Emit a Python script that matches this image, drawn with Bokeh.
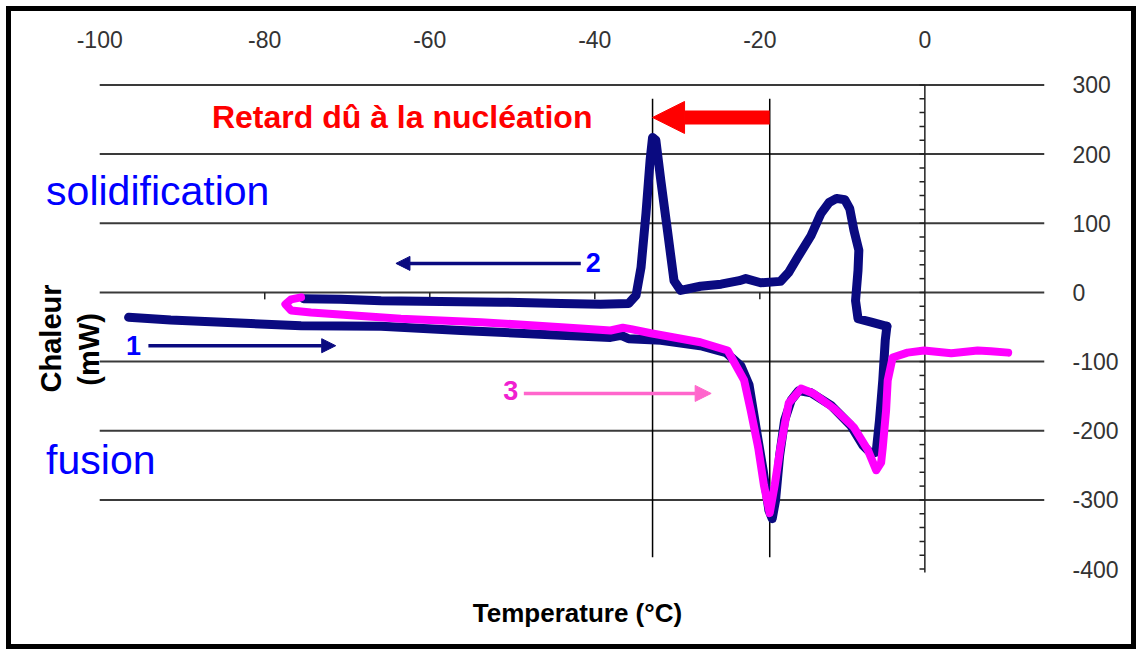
import math
from bokeh.plotting import figure
from bokeh.models import Range1d, FixedTicker, Label, Arrow, NormalHead
from bokeh.embed import file_html
from bokeh.resources import INLINE

# ---------------- data ----------------
X_TICKS = [-100, -80, -60, -40, -20, 0]
Y_TICKS = [-400, -300, -200, -100, 0, 100, 200, 300]
GRID_TICKS = [-300, -200, -100, 0, 100, 200, 300]
MINOR_Y = list(range(-400, 301, 20))
X_END = 14.5

# curve 1 (navy, heating)
heat1_x = [-96.5, -91.4, -81.7, -75.6, -65.9, -56.2, -44.1, -38.1, -36.8, -35.9,
           -32.0, -27.2, -24.1, -22.3, -21.3, -20.4, -19.6, -18.9, -18.5, -18.1,
           -17.6, -17.0, -16.2, -15.3, -13.8, -11.4, -9.0, -7.5, -6.5, -5.9,
           -5.5, -5.1, -4.8, -4.6]
heat1_y = [-36, -40, -45, -48, -49, -55, -62, -65, -62, -67,
           -69, -77, -87, -106, -134, -200, -257, -315, -327, -301,
           -236, -185, -156, -142, -145, -163, -192, -221, -233, -231,
           -185, -127, -69, -49]

# curve 2 (navy, cooling)
cool2_x = [-4.6, -6.5, -8.1, -8.4, -8.1, -8.0, -8.6, -9.1, -9.7, -10.7,
           -11.6, -12.6, -13.8, -15.4, -16.5, -17.5, -19.9, -21.7, -22.5, -24.7,
           -27.2, -29.6, -30.4, -31.2, -32.0, -32.6, -33.0, -33.3, -33.8, -34.4,
           -35.0, -35.9, -39.3, -44.1, -51.4, -58.7, -65.9, -70.8, -75.3]
cool2_y = [-49, -43, -38, -12, 32, 61, 90, 121, 134, 136,
           130, 114, 82, 51, 29, 16, 14, 20, 17, 12,
           9, 3, 17, 90, 162, 220, 224, 191, 114, 36,
           -4, -16, -17, -16, -14, -13, -12, -10, -9]

# curve 3 (magenta, heating)
heat3_x = [-75.6, -76.8, -77.5, -76.8, -74.4, -69.6, -63.5, -53.8, -41.7, -38.1,
           -36.6, -35.6, -33.2, -27.2, -23.9, -21.9, -21.1, -20.2, -19.5, -18.8,
           -18.2, -17.5, -16.5, -15.0, -13.5, -11.0, -8.6, -6.9, -5.9, -5.3,
           -5.1, -4.7, -4.5, -3.9, -2.1, -0.1, 3.2, 6.4, 8.0, 10.1]
heat3_y = [-7, -10, -17, -26, -29, -33, -38, -43, -52, -55,
           -51, -53, -59, -72, -84, -127, -171, -224, -279, -319,
           -279, -224, -160, -139, -146, -168, -195, -228, -257, -246,
           -224, -171, -127, -94, -87, -84, -88, -84, -85, -87]

ONSET_TEMPS = [-33.0, -18.8]

NAVY = "#0a0a80"
PINK = "#ff00ff"
BLUE = "#0000ff"

p = figure(width=1130, height=643, output_backend="svg", toolbar_location=None,
           x_range=Range1d(-109.6, X_END), y_range=Range1d(-496, 305),
           x_axis_location="above", y_axis_location="right",
           min_border_left=9, min_border_right=97, min_border_top=70,
           min_border_bottom=19)
p.styles = {"border": "5px solid black", "margin-left": "6px", "margin-top": "6px"}
p.outline_line_color = None
p.background_fill_color = "white"
p.border_fill_color = "white"

tick_font = "Liberation Sans Narrow, Arial Narrow, Liberation Sans, sans-serif"
xa = p.xaxis[0]
xa.ticker = FixedTicker(ticks=X_TICKS)
xa.major_label_overrides = {t: str(t) for t in X_TICKS}
ya = p.yaxis[0]
ya.ticker = FixedTicker(ticks=Y_TICKS)
ya.major_label_overrides = {t: str(t) for t in Y_TICKS}
for ax in (xa, ya):
    ax.axis_line_color = None
    ax.major_tick_line_color = None
    ax.minor_tick_line_color = None
    ax.major_label_text_font = tick_font
    ax.major_label_text_font_size = "23px"
    ax.major_label_text_color = "#333333"
xa.major_label_standoff = 28
ya.major_label_standoff = 22

p.xgrid.visible = False
p.ygrid.visible = False
# horizontal gridlines over the data area only
n = len(GRID_TICKS)
p.segment(x0=[X_TICKS[0]] * n, y0=GRID_TICKS, x1=[X_END] * n, y1=GRID_TICKS,
          line_color="#3a3a3a", line_width=2)

# vertical axis through 0 with minor ticks
p.segment(x0=[0], y0=[-405], x1=[0], y1=[300], line_color="#222222", line_width=1.5)
p.segment(x0=[-0.65] * len(MINOR_Y), y0=MINOR_Y, x1=[0] * len(MINOR_Y), y1=MINOR_Y,
          line_color="#222222", line_width=1.5)
# ticks of the horizontal axis at y = 0
inner = X_TICKS[1:-1]
p.segment(x0=inner, y0=[0] * len(inner), x1=inner, y1=[-10] * len(inner),
          line_color="#222222", line_width=1.5)

# onset lines
p.segment(x0=ONSET_TEMPS, y0=[-383] * 2, x1=ONSET_TEMPS, y1=[280] * 2,
          line_color="black", line_width=1.5)

# curves
p.line(heat1_x, heat1_y, line_color=NAVY, line_width=9, line_join="round", line_cap="round")
p.line(cool2_x, cool2_y, line_color=NAVY, line_width=9, line_join="round", line_cap="round")
p.line(heat3_x, heat3_y, line_color=PINK, line_width=8, line_join="round", line_cap="round")

# arrows
p.add_layout(Arrow(end=NormalHead(size=32, fill_color="#ff0000", line_color="#ff0000"),
                   x_start=ONSET_TEMPS[1], y_start=253, x_end=ONSET_TEMPS[0], y_end=253,
                   line_color="#ff0000", line_width=14))
p.add_layout(Arrow(end=NormalHead(size=14, fill_color=NAVY, line_color=NAVY),
                   x_start=-94.1, y_start=-77, x_end=-71.4, y_end=-77,
                   line_color=NAVY, line_width=3.5))
p.add_layout(Arrow(end=NormalHead(size=14, fill_color=NAVY, line_color=NAVY),
                   x_start=-41.7, y_start=42, x_end=-64.1, y_end=42,
                   line_color=NAVY, line_width=3.5))
p.add_layout(Arrow(end=NormalHead(size=16, fill_color="#ff66cc", line_color="#ff66cc"),
                   x_start=-48.6, y_start=-146, x_end=-25.9, y_end=-146,
                   line_color="#ff66cc", line_width=3.5))

F = "Liberation Sans"
def lab(x, y, text, size, color, bold=False, align="left", baseline="alphabetic", angle=0):
    p.add_layout(Label(x=x, y=y, text=text, text_font=F, text_font_size=size,
                       text_color=color, text_font_style="bold" if bold else "normal",
                       text_align=align, text_baseline=baseline, angle=angle))

lab(-86.4, 254, "Retard dû à la nucléation", "32px", "#ff0000", bold=True)
lab(-106.5, 147, "solidification", "41px", BLUE)
lab(-106.5, -242, "fusion", "41px", BLUE)
lab(-95.9, -77, "1", "27px", BLUE, bold=True, align="center")
lab(-40.2, 43, "2", "27px", BLUE, bold=True, align="center")
lab(-50.2, -142, "3", "27px", "#f020d0", bold=True, align="center")
lab(-42.1, -463, "Temperature (°C)", "26px", "black", bold=True, align="center")
lab(-105.9, -66.5, "Chaleur", "29px", "black", bold=True, align="center",
    baseline="middle", angle=math.pi / 2)
lab(-101.3, -82.4, "(mW)", "29px", "black", bold=True, align="center",
    baseline="middle", angle=math.pi / 2)

open("out.html", "w").write(file_html(p, INLINE))
